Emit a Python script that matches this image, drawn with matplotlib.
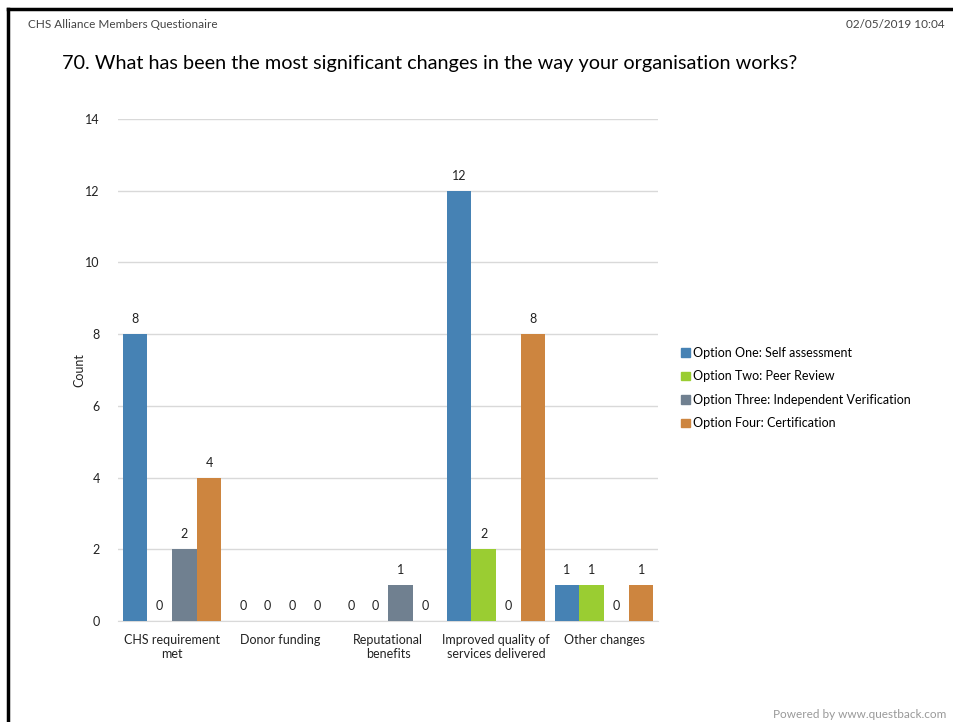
import numpy as np
import matplotlib.pyplot as plt
from matplotlib.lines import Line2D

categories = ['CHS requirement\nmet', 'Donor funding', 'Reputational\nbenefits',
              'Improved quality of\nservices delivered', 'Other changes']
series_names = ['Option One: Self assessment', 'Option Two: Peer Review',
                'Option Three: Independent Verification', 'Option Four: Certification']
self_assessment = [8, 0, 0, 12, 1]
peer_review = [0, 0, 0, 2, 1]
independent = [2, 0, 1, 0, 0]
certification = [4, 0, 0, 8, 1]
colors = ['#4682B4', '#9ACD32', '#708090', '#CD853F']

plt.rcParams['font.family'] = ['Lato', 'DejaVu Sans']

fig = plt.figure(figsize=(9.54, 7.22), dpi=100)
W, H = 954, 722
ax = fig.add_axes([118 / W, 1 - 621 / H, 540 / W, 502 / H])

x = np.arange(len(categories))
bw = 0.229
data = [self_assessment, peer_review, independent, certification]
for i, (vals, c, name) in enumerate(zip(data, colors, series_names)):
    pos = x + (i - 1.5) * bw
    ax.bar(pos, vals, bw, color=c, label=name, zorder=3)
    for p, v in zip(pos, vals):
        ax.text(p, v + 0.25, str(v), ha='center', va='bottom', fontsize=9, color='#222222')

ax.set_xlim(-0.5, len(categories) - 0.5)
ax.set_ylim(0, 14)
ax.set_yticks(range(0, 15, 2))
ax.set_xticks(x)
ax.set_xticklabels(categories, fontsize=9, color='#222222', linespacing=1.25)
ax.tick_params(axis='y', labelsize=9, colors='#222222', length=0, pad=13)
ax.tick_params(axis='x', length=0, pad=9)
ax.grid(axis='y', color='#d9d9d9', linewidth=1, zorder=0)
for s in ['top', 'right', 'left']:
    ax.spines[s].set_visible(False)
ax.spines['bottom'].set_color('#d9d9d9')
ax.set_ylabel('Count', fontsize=9, color='#222222', labelpad=0)

handles = [plt.Rectangle((0, 0), 1, 1, color=c) for c in colors]
fig.legend(handles, series_names, loc='upper left', bbox_to_anchor=(676 / W, 1 - 342 / H),
           frameon=False, fontsize=9, handlelength=0.7, handleheight=0.7,
           handletextpad=0.25, labelspacing=0.92, borderaxespad=0)

# page frame and header / footer
fig.add_artist(Line2D([8 / W, 8 / W], [0, 1 - 9 / H], color='black', lw=2.5))
fig.add_artist(Line2D([8 / W, 1], [1 - 9 / H, 1 - 9 / H], color='black', lw=2.5))
fig.text(28 / W, 1 - 24 / H, 'CHS Alliance Members Questionaire', fontsize=8.5,
         color='#444444', va='center')
fig.text(945 / W, 1 - 24 / H, '02/05/2019 10:04', fontsize=8.5, color='#444444',
         va='center', ha='right')
fig.text(62 / W, 1 - 64 / H, '70. What has been the most significant changes in the way your organisation works?',
         fontsize=14.3, color='black', va='center')
fig.text(946 / W, 1 - 720 / H, 'Powered by www.questback.com', fontsize=8.5, color='#999999',
         ha='right', va='bottom')

fig.savefig('out.png', dpi=100)
